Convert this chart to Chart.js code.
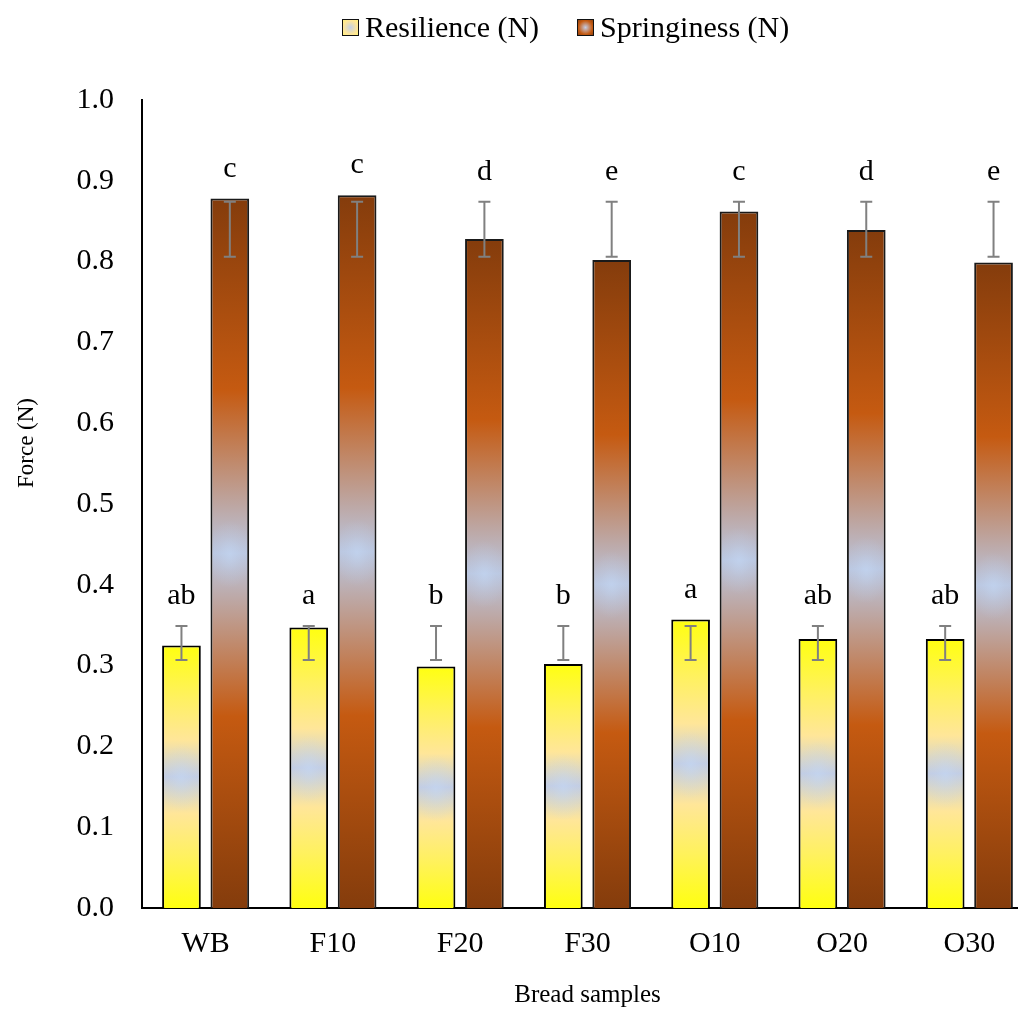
<!DOCTYPE html>
<html lang="en">
<head>
<meta charset="utf-8">
<title>Bread samples - resilience and springiness</title>
<script src="https://cdn.jsdelivr.net/npm/chart.js@4.4.1/dist/chart.umd.min.js"></script>
<style>
  html,
  body {
    margin: 0;
    padding: 0;
    background: #fff;
    overflow: hidden;
  }
  .wrap {
    position: relative;
    width: 1040px;
    height: 1010px;
  }
  .legend {
    position: absolute;
    left: 342px;
    top: 10px;
    height: 34px;
    display: flex;
    align-items: center;
    font: 30px "Liberation Serif", "Times New Roman", serif;
    color: #000;
    white-space: nowrap;
  }
  .legend .box {
    width: 15px;
    height: 15px;
    border: 1.5px solid #111;
    margin-right: 6px;
  }
  .legend .res {
    background: radial-gradient(circle, #c6d0e4 0%, #ffe699 65%, #fff27a 100%);
  }
  .legend .spr {
    background: radial-gradient(circle, #c4cde6 0%, #c55a11 65%, #8e4110 100%);
  }
  .legend .gap {
    width: 38px;
  }
</style>
</head>
<body>
<div class="wrap">
  <canvas id="myChart" width="1040" height="1010"></canvas>
  <div class="legend">
    <span class="box res"></span><span>Resilience (N)</span>
    <span class="gap"></span>
    <span class="box spr"></span><span>Springiness (N)</span>
  </div>
</div>
<script>
const categories = ["WB", "F10", "F20", "F30", "O10", "O20", "O30"];

const resilience = [0.325, 0.347, 0.299, 0.302, 0.357, 0.333, 0.333];
const springiness = [0.878, 0.882, 0.828, 0.802, 0.862, 0.839, 0.799];

// error bar ends (absolute values, not +/-)
const resilienceLow = [0.307, 0.307, 0.307, 0.307, 0.307, 0.307, 0.307];
const resilienceHigh = [0.349, 0.349, 0.349, 0.349, 0.349, 0.349, 0.349];
const springinessLow = [0.806, 0.806, 0.806, 0.806, 0.806, 0.806, 0.806];
const springinessHigh = [0.874, 0.874, 0.874, 0.874, 0.874, 0.874, 0.874];

// significance letters
const resilienceLetters = ["ab", "a", "b", "b", "a", "ab", "ab"];
const springinessLetters = ["c", "c", "d", "e", "c", "d", "e"];

const yTicks = [0, 0.1, 0.2, 0.3, 0.4, 0.5, 0.6, 0.7, 0.8, 0.9, 1.0];

const serif = "'Liberation Serif', 'Times New Roman', serif";

const yellowStops = [
  [0, "#ffff10"],
  [0.2, "#fff160"],
  [0.36, "#ffe699"],
  [0.5, "#c2cce2"],
  [0.64, "#ffe699"],
  [0.8, "#fff160"],
  [1, "#ffff10"],
];
const brownStops = [
  [0, "#843c0c"],
  [0.27, "#c55a11"],
  [0.5, "#bac6df"],
  [0.73, "#c55a11"],
  [1, "#843c0c"],
];

// vertical gradient spanning each bar from its top to the zero line
function barFill(stops) {
  return (context) => {
    const chart = context.chart;
    const y = chart.scales.y;
    if (!chart.chartArea || !y || context.type !== "data") return stops[1][1];
    const top = y.getPixelForValue(context.raw);
    const base = y.getPixelForValue(0);
    const grad = chart.ctx.createLinearGradient(0, top, 0, base);
    stops.forEach(([offset, color]) => grad.addColorStop(offset, color));
    return grad;
  };
}

// soft light spot in the middle of each bar, kept inside the border
const barGlow = {
  id: "barGlow",
  afterDatasetsDraw(chart) {
    const { ctx } = chart;
    chart.data.datasets.forEach((ds, i) => {
      const meta = chart.getDatasetMeta(i);
      meta.data.forEach((bar) => {
        const half = bar.width / 2 - 2;
        const top = bar.y + 2;
        const bottom = bar.base;
        const cy = (top + bottom) / 2;
        const h = bottom - top;
        ctx.save();
        ctx.beginPath();
        ctx.rect(bar.x - half, top, half * 2, h);
        ctx.clip();
        ctx.translate(bar.x, cy);
        ctx.scale(1, Math.min(1.5, Math.max(1, h / (half * 6))));
        const r = half * 1.3;
        const g = ctx.createRadialGradient(0, 0, 0, 0, 0, r);
        g.addColorStop(0, "rgba(196, 216, 245, 0.6)");
        g.addColorStop(0.5, "rgba(196, 216, 245, 0.22)");
        g.addColorStop(1, "rgba(196, 216, 245, 0)");
        ctx.fillStyle = g;
        ctx.fillRect(-r, -r, r * 2, r * 2);
        ctx.restore();
      });
    });
  },
};

const errorBars = {
  id: "errorBars",
  afterDatasetsDraw(chart) {
    const { ctx } = chart;
    const y = chart.scales.y;
    ctx.save();
    ctx.strokeStyle = "#808080";
    ctx.lineWidth = 2;
    chart.data.datasets.forEach((ds, i) => {
      const meta = chart.getDatasetMeta(i);
      meta.data.forEach((bar, j) => {
        const lo = y.getPixelForValue(ds.errLow[j]);
        const hi = y.getPixelForValue(ds.errHigh[j]);
        ctx.beginPath();
        ctx.moveTo(bar.x, lo);
        ctx.lineTo(bar.x, hi);
        ctx.moveTo(bar.x - 6, lo);
        ctx.lineTo(bar.x + 6, lo);
        ctx.moveTo(bar.x - 6, hi);
        ctx.lineTo(bar.x + 6, hi);
        ctx.stroke();
      });
    });
    ctx.restore();
  },
};

const letterLabels = {
  id: "letterLabels",
  afterDatasetsDraw(chart) {
    const { ctx } = chart;
    const y = chart.scales.y;
    ctx.save();
    ctx.fillStyle = "#000";
    ctx.font = `30px ${serif}`;
    ctx.textAlign = "center";
    ctx.textBaseline = "alphabetic";
    chart.data.datasets.forEach((ds, i) => {
      const meta = chart.getDatasetMeta(i);
      meta.data.forEach((bar, j) => {
        const top = Math.min(bar.y, y.getPixelForValue(ds.errHigh[j]));
        ctx.fillText(ds.letters[j], bar.x, top - 22);
      });
    });
    ctx.restore();
  },
};

// y title sits a bit above the middle of the axis
const yTitle = {
  id: "yTitle",
  afterDraw(chart) {
    const { ctx } = chart;
    ctx.save();
    ctx.translate(27, 443);
    ctx.rotate(-Math.PI / 2);
    ctx.fillStyle = "#000";
    ctx.font = `23px ${serif}`;
    ctx.textAlign = "center";
    ctx.textBaseline = "middle";
    ctx.fillText("Force (N)", 0, 0);
    ctx.restore();
  },
};

const chartConfig = {
  type: "bar",
  data: {
    labels: categories,
    datasets: [
      {
        label: "Resilience (N)",
        data: resilience,
        errLow: resilienceLow,
        errHigh: resilienceHigh,
        letters: resilienceLetters,
        backgroundColor: barFill(yellowStops),
        borderColor: "#000",
        borderWidth: 2,
        categoryPercentage: 0.76,
        barPercentage: 0.8,
      },
      {
        label: "Springiness (N)",
        data: springiness,
        errLow: springinessLow,
        errHigh: springinessHigh,
        letters: springinessLetters,
        backgroundColor: barFill(brownStops),
        borderColor: "#1a1a1a",
        borderWidth: 2,
        categoryPercentage: 0.76,
        barPercentage: 0.8,
      },
    ],
  },
  options: {
    responsive: false,
    animation: false,
    layout: {
      padding: { top: 100, right: 7, bottom: 0, left: 0 },
    },
    plugins: {
      legend: { display: false },
      tooltip: { enabled: false },
    },
    scales: {
      x: {
        grid: { display: false, drawTicks: false },
        border: { display: true, color: "#000", width: 2 },
        ticks: {
          color: "#000",
          padding: 18,
          font: { family: serif, size: 30 },
        },
        title: {
          display: true,
          text: "Bread samples",
          color: "#000",
          font: { family: serif, size: 25 },
          padding: { top: 0, bottom: 0 },
        },
        afterFit(scale) {
          scale.height = 102;
        },
      },
      y: {
        min: 0,
        max: 1,
        afterBuildTicks(scale) {
          scale.ticks = yTicks.map((v) => ({ value: v }));
        },
        grid: { display: false, drawTicks: false },
        border: { display: true, color: "#000", width: 2 },
        ticks: {
          color: "#000",
          padding: 28,
          font: { family: serif, size: 30 },
          callback: (v) => Number(v).toFixed(1),
        },
        afterFit(scale) {
          scale.width = 142;
        },
      },
    },
  },
  plugins: [barGlow, errorBars, letterLabels, yTitle],
};

// eslint-disable-next-line
const myChart = new Chart(document.getElementById("myChart"), chartConfig);
</script>
</body>
</html>
